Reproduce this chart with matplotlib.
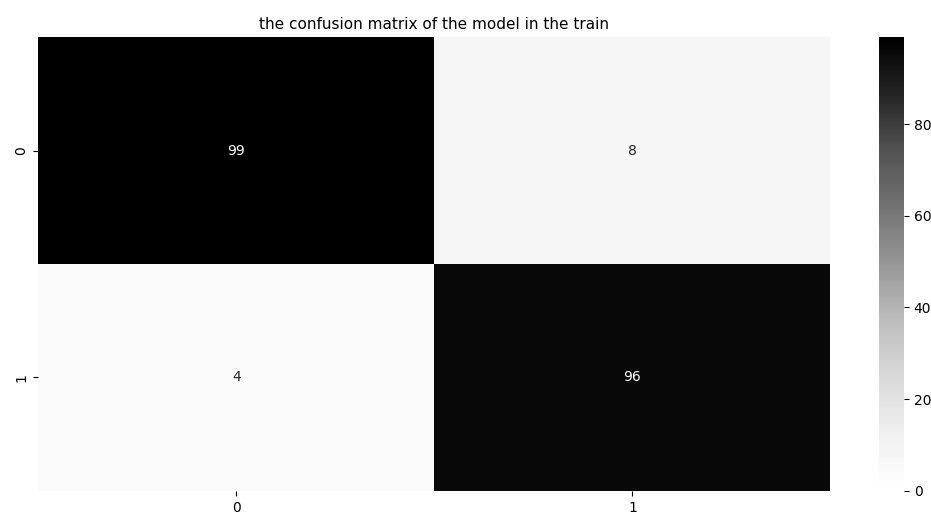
import matplotlib
matplotlib.use("Agg")
import matplotlib.pyplot as plt
import seaborn as sns
import numpy as np

row_labels = ["0", "1"]
col_labels = ["0", "1"]
row0 = [99, 8]
row1 = [4, 96]
title = "the confusion matrix of the model in the train"

data = np.array([row0, row1])

fig = plt.figure(figsize=(9.31, 5.15), dpi=100)
ax = fig.add_axes([0.041, 0.047, 0.851, 0.881])
cax = fig.add_axes([0.944, 0.047, 0.027, 0.881])
sns.heatmap(data, annot=True, fmt="d", cmap="Greys", vmin=0, vmax=data.max(),
            xticklabels=col_labels, yticklabels=row_labels,
            ax=ax, cbar_ax=cax, annot_kws={"fontsize": 10})
ax.set_title(title, fontsize=11)
ax.tick_params(labelsize=10)
cax.tick_params(labelsize=10)
fig.savefig("out.png", dpi=100)
